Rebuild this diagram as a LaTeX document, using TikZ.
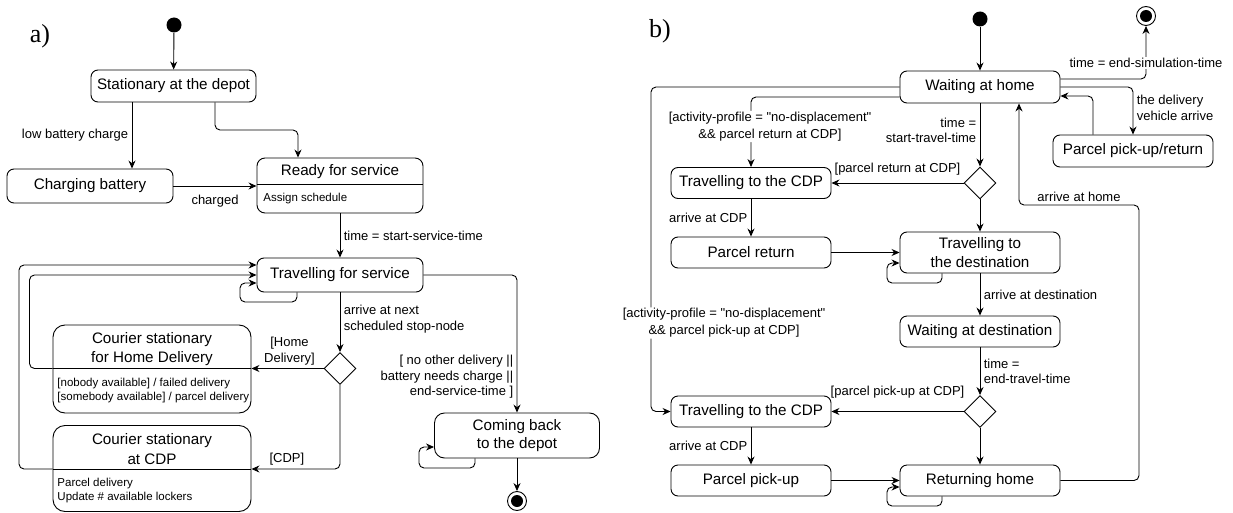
\documentclass[tikz,border=0pt]{standalone}
\usepackage{fontspec}
\setmainfont{Liberation Sans}[Ligatures=TeXOff]
\newfontfamily\panelfont{Liberation Serif}
\usetikzlibrary{shapes.geometric,arrows.meta,positioning}

\begin{document}
\begin{tikzpicture}[x=1pt, y=-1pt, line width=0.9pt, >={Stealth[length=8pt,width=7pt]},
    statebox/.style={rectangle, draw, rounded corners=7pt, minimum width=160pt, minimum height=31pt, inner sep=2pt, align=center, font=\fontsize{15.2}{18.5}\selectfont},
    boxtext/.style={align=center, inner sep=0pt, font=\fontsize{15.2}{19.5}\selectfont},
    activity/.style={align=left, inner sep=0pt, font=\fontsize{11.5}{14}\selectfont},
    startdot/.style={circle, fill, minimum size=15pt, inner sep=0pt},
    enddot/.style={circle, draw, minimum size=19pt, inner sep=0pt, path picture={\fill (path picture bounding box.center) circle (6pt);}},
    choice/.style={diamond, draw, minimum width=32pt, minimum height=32pt, inner sep=0pt},
    guard/.style={font=\fontsize{13}{15.5}\selectfont},
    trans/.style={->, rounded corners=5pt},
    panel/.style={font=\panelfont\fontsize{26}{28}\selectfont}]
  \useasboundingbox (0,0) rectangle (1233,513);

  % a) courier / vehicle
  \node[panel] (labela) at (40,36) {a)};
  \node[startdot] (starta) at (174,25) {};
  \node[statebox, minimum width=165pt, minimum height=32pt] (depot) at (173.5,86) {Stationary at the depot};
  \node[statebox, minimum width=166pt, minimum height=34pt] (charging) at (90,186) {Charging battery};
  \node[statebox, minimum width=166pt, minimum height=55pt, rounded corners=8pt] (ready) at (340,185.5) {};
  \node[boxtext] (readyname) at (340,172) {Ready for service};
  \node[activity, anchor=west] (readyact) at (263,199) {Assign schedule};
  \draw (ready.west |- 0,184) -- (ready.east |- 0,184);
  \node[statebox, minimum width=166pt, minimum height=34pt] (travel) at (340,275) {Travelling for service};
  \node[choice] (choicea) at (340,368.5) {};
  \node[statebox, minimum width=198pt, minimum height=88pt, rounded corners=12pt] (homedel) at (152,369) {};
  \node[boxtext] (homedelname) at (152,349) {Courier stationary\\for Home Delivery};
  \node[activity, anchor=west] (homedelact) at (57,390.5) {[nobody available] / failed delivery\\{[}somebody available{]} / parcel delivery};
  \node[statebox, minimum width=198pt, minimum height=86pt, rounded corners=12pt] (cdp) at (152,468.5) {};
  \node[boxtext] (cdpname) at (152,449) {Courier stationary\\at CDP};
  \node[activity, anchor=west] (cdpact) at (57,490.5) {Parcel delivery\\Update \# available lockers};
  \node[statebox, minimum width=165pt, minimum height=45pt, rounded corners=10pt] (comeback) at (517,435.5) {Coming back\\to the depot};
  \node[enddot] (enda) at (517,501) {};

  \draw[trans] (starta) -- (depot);
  \draw[trans] (depot.south -| 132,0) -- node[guard, left] {low battery charge} (charging.north -| 132,0);
  \draw[trans] (depot.south -| 215,0) |- (260,130) -| (ready.north -| 298,0);
  \draw[trans] (charging) -- node[guard, below=5pt] {charged} (ready.west |- charging);
  \draw[trans] (ready) -- node[guard, right] {time = start-service-time} (travel);
  \draw[trans] (travel.south -| 297,0) |- (240,302) |- (travel.west |- 0,283);
  \draw[trans] (travel) -- node[guard, right, align=left, pos=0.45] {arrive at next\\scheduled stop-node} (choicea);
  \draw[trans] (choicea) -- node[guard, above, align=center, xshift=2pt] {[Home\\Delivery]} (homedel.east |- choicea);
  \draw[trans] (choicea) |- node[guard, above, pos=0.8] {[CDP]} (cdp.east |- 0,469);
  \draw (homedel.west |- 0,368.5) -- (homedel.east |- 0,368.5);
  \draw (cdp.west |- 0,469) -- (cdp.east |- 0,469);
  \draw[trans] (homedel.west |- 0,368.5) -| (29.5,320) |- (travel.west);
  \draw[trans] (cdp.west |- 0,469) -| (19,400) |- (travel.west |- 0,265);
  \draw[trans] (travel) -| node[guard, left, align=right, pos=0.87] {[ no other delivery ||\\battery needs charge ||\\end-service-time ]} (comeback);
  \draw[trans] (comeback.south -| 475,0) |- (419,468) |- (comeback.west |- 0,447);
  \draw[trans] (comeback) -- (enda);

  % b) customer
  \node[panel] (labelb) at (660,31) {b)};
  \node[startdot] (startb) at (980,19) {};
  \node[enddot] (endb) at (1146,16) {};
  \node[statebox, minimum height=32pt] (home) at (980,87) {Waiting at home};
  \node[statebox, minimum height=32pt] (pickret) at (1133,151) {Parcel pick-up/return};
  \node[statebox] (cdp1) at (751,183) {Travelling to the CDP};
  \node[choice] (choiceb1) at (980,183) {};
  \node[statebox] (ret) at (751,252.5) {Parcel return};
  \node[statebox, minimum height=41pt] (dest) at (980,252.5) {Travelling to\\the destination};
  \node[statebox] (waitdest) at (980,331.5) {Waiting at destination};
  \node[choice] (choiceb2) at (980,411.5) {};
  \node[statebox] (cdp2) at (751,411.5) {Travelling to the CDP};
  \node[statebox] (pickup) at (751,480.5) {Parcel pick-up};
  \node[statebox] (rethome) at (980,480.5) {Returning home};

  \draw[trans] (startb) -- (home);
  \draw[trans] (home.east |- 0,79) -| (1146,63) node[guard, fill=white, inner sep=1pt] {time = end-simulation-time} -- (endb);
  \draw[trans] (home.east) -| node[guard, right, align=left, pos=0.72] {the delivery\\vehicle arrive} (pickret);
  \draw[trans] (pickret.north -| 1093,0) |- (home.east |- 0,96);
  \draw[trans] (rethome) -| (1139,205) -- node[guard, above] {arrive at home} (1019,205) -- (home.south -| 1019,0);
  \draw[trans] (home.west) -| (651,323) node[guard, fill=white, inner sep=1pt, align=center, xshift=73pt, font=\fontsize{13}{17}\selectfont] {[activity-profile = "no-displacement"\\\&\& parcel pick-up at CDP]} |- (cdp2);
  \draw[trans] (home.west |- 0,97) -| (751,126.5) node[guard, fill=white, inner sep=1pt, align=center, xshift=19pt, font=\fontsize{13}{17}\selectfont] {[activity-profile = "no-displacement"\\\&\& parcel return at CDP]} -- (cdp1);
  \draw[trans] (home) -- node[guard, left, align=right, pos=0.43] {time =\\start-travel-time} (choiceb1);
  \draw[trans] (choiceb1) -- node[guard, above=4pt] {[parcel return at CDP]} (cdp1);
  \draw[trans] (choiceb1) -- (dest);
  \draw[trans] (cdp1) -- node[guard, left] {arrive at CDP} (ret);
  \draw[trans] (ret) -- (dest.west |- ret);
  \draw[trans] (dest.south -| 942,0) |- (887,283) |- (dest.west |- 0,263);
  \draw[trans] (dest) -- node[guard, right] {arrive at destination} (waitdest);
  \draw[trans] (waitdest) -- node[guard, right, align=left] {time =\\end-travel-time} (choiceb2);
  \draw[trans] (choiceb2) -- node[guard, above=10pt] {[parcel pick-up at CDP]} (cdp2);
  \draw[trans] (choiceb2) -- (rethome);
  \draw[trans] (cdp2) -- node[guard, left] {arrive at CDP} (pickup);
  \draw[trans] (pickup) -- (rethome);
  \draw[trans] (rethome.south -| 942,0) |- (887,506) |- (rethome.west |- 0,487);
\end{tikzpicture}
\end{document}
